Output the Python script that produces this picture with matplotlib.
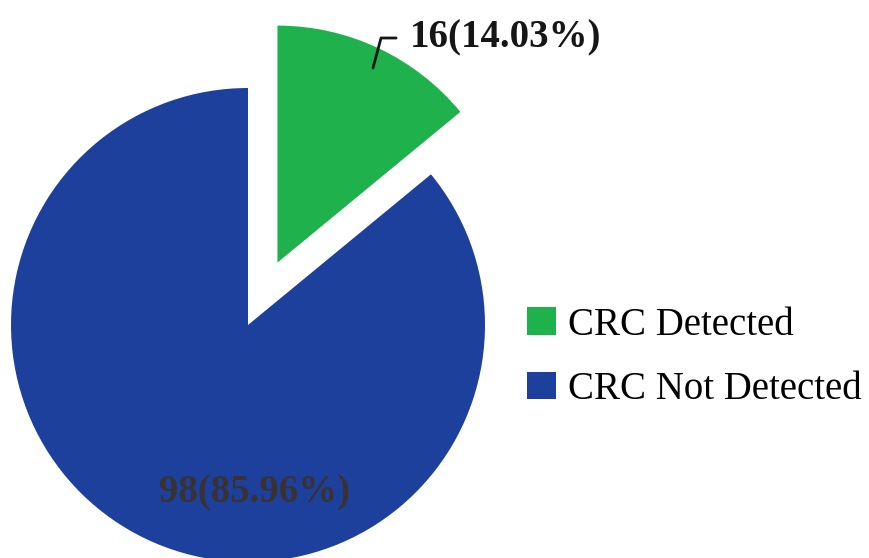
import matplotlib
matplotlib.use("Agg")
import matplotlib.pyplot as plt

plt.rcParams["font.family"] = ["Liberation Serif", "DejaVu Serif"]

labels = ["CRC Detected", "CRC Not Detected"]
counts = [16, 98]
percents = [14.03, 85.96]
colors = ["#1fb14c", "#1c409b"]

fig = plt.figure(figsize=(8.7, 5.58), dpi=100)
ax = fig.add_axes([0, 0, 1, 1])

# explode is in data units once radius/center are given in pixels
wedges, _ = ax.pie(
    counts,
    colors=colors,
    startangle=90,
    counterclock=False,
    explode=[69, 0],
    radius=237,
    center=(248, 233),
    frame=True,
)
ax.set_xlim(0, 870)
ax.set_ylim(0, 558)
ax.set_aspect("equal")
ax.set_axis_off()

# value labels
ax.annotate(
    f"{counts[0]}({percents[0]:.2f}%)",
    xy=(373, 490),
    xytext=(410, 520),
    fontsize=28,
    fontweight="bold",
    color="#161616",
    va="center",
    ha="left",
    arrowprops=dict(arrowstyle="-", color="#161616", lw=2,
                    connectionstyle="angle,angleA=0,angleB=75,rad=0",
                    shrinkA=8, shrinkB=0),
)
ax.text(
    255, 65,
    f"{counts[1]}({percents[1]:.2f}%)",
    fontsize=28,
    fontweight="bold",
    color="#3a3232",
    ha="center",
    va="center",
)

ax.legend(
    wedges,
    labels,
    loc="center left",
    bbox_to_anchor=(0.606, 0.36),
    frameon=False,
    fontsize=28,
    handlelength=0.75,
    handleheight=0.7,
    handletextpad=0.3,
    labelspacing=0.7,
    borderpad=0,
    borderaxespad=0,
)

fig.savefig("out.png", dpi=100, facecolor="white")
